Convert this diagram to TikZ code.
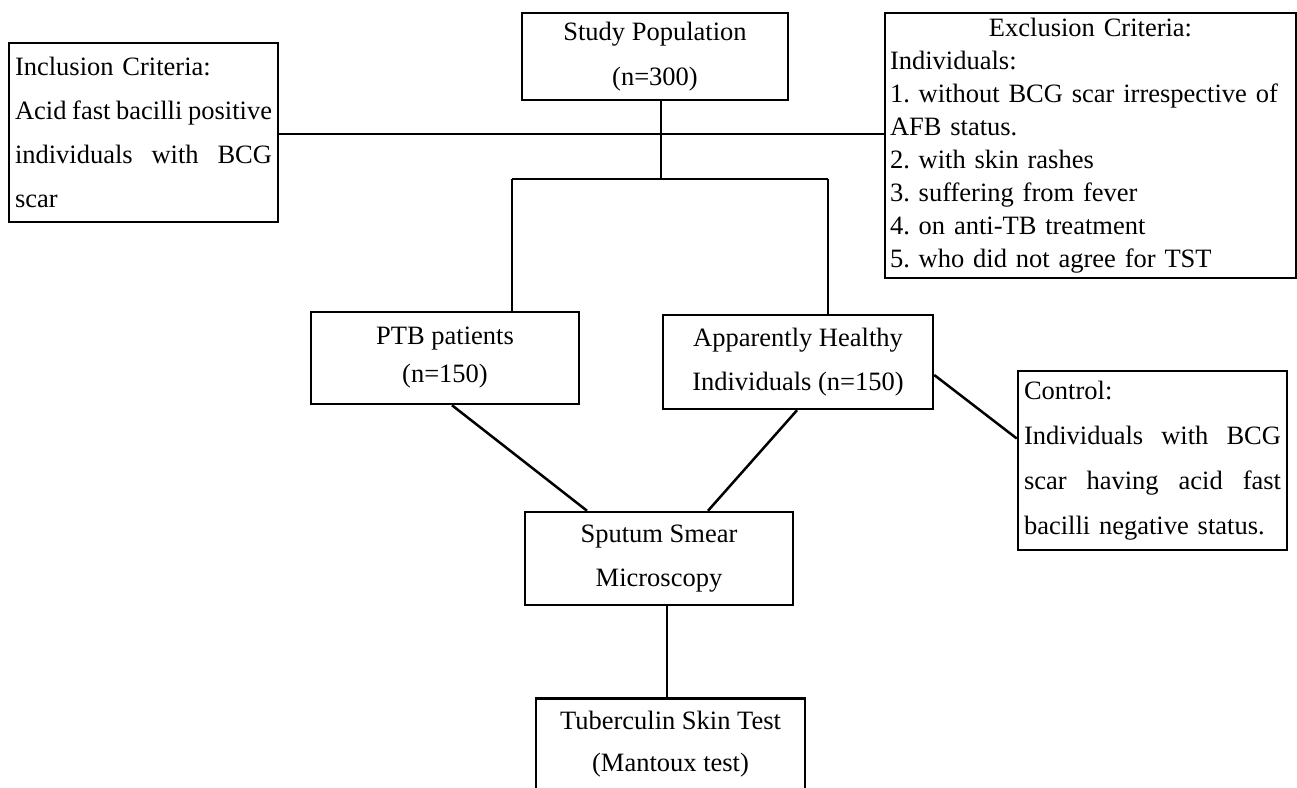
\documentclass[tikz,border=0pt]{standalone}
\usepackage{fontspec}
\setmainfont{Liberation Serif}
\frenchspacing
\newcommand{\spreadline}[1]{\makebox[257pt][s]{#1}}
\newcommand{\txt}[1]{\fontsize{26.5}{#1}\selectfont}

\begin{document}
\begin{tikzpicture}[x=1pt,y=-1pt,line width=2.5pt,
  box/.style={draw,rectangle,inner sep=0pt,align=center},
  listbox/.style={draw,rectangle,inner xsep=6pt,inner ysep=0pt,text width=257pt,align=left}]
\useasboundingbox (0,0) rectangle (1297,787);

% Study population and the two criteria boxes
\node[box,minimum width=266pt,minimum height=87pt,font=\txt{45}] (study) at (655,56.5) {Study Population\\(n=300)};
\node[listbox,minimum height=179pt,font=\txt{44}] (incl) at (143.5,132.5)
  {Inclusion Criteria:\\\spreadline{Acid\hfill fast\hfill bacilli\hfill positive}\\\spreadline{individuals\hfill with\hfill BCG}\\scar};
\node[listbox,inner xsep=5pt,text width=401pt,minimum height=265pt,font=\txt{33}] (excl) at (1090.5,145.5)
  {\makebox[401pt]{Exclusion Criteria:}\\Individuals:\\1. without BCG scar irrespective of\\AFB status.\\2. with skin rashes\\3. suffering from fever\\4. on anti-TB treatment\\5. who did not agree for TST};

% Two groups
\node[box,minimum width=268pt,minimum height=92pt,font=\txt{38}] (ptb) at (445,358) {PTB patients\\(n=150)};
\node[box,minimum width=270pt,minimum height=94pt,font=\txt{44}] (ah) at (798,362) {Apparently Healthy\\Individuals (n=150)};
\node[listbox,minimum height=179pt,font=\txt{45}] (ctrl) at (1152.5,460.5)
  {Control:\\\spreadline{Individuals\hfill with\hfill BCG}\\\spreadline{scar\hfill having\hfill acid\hfill fast}\\bacilli negative status.};

% Tests
\node[box,minimum width=268pt,minimum height=93pt,font=\txt{44}] (smear) at (659,558.5) {Sputum Smear\\Microscopy};
\node[box,anchor=north,minimum width=269pt,inner ysep=13pt,font=\txt{42}] (tst) at (670.5,697) {Tuberculin Skin Test\\(Mantoux test)};

% Connectors
\coordinate (cross) at (661,134);
\coordinate (split) at (661,179);
\coordinate (bl) at (512,179);
\coordinate (br) at (828,179);
\draw (incl.east |- cross) -- (excl.west |- cross);
\draw (study.south -| split) -- (split);
\draw (bl) -- (br);
\draw (bl) -- (bl |- ptb.north);
\draw (br) -- (br |- ah.north);
\draw ([xshift=7pt]ptb.south) -- ([xshift=-72pt]smear.north);
\draw ([xshift=-1pt]ah.south) -- ([xshift=49pt]smear.north);
\draw ([yshift=-13pt]ah.east) -- ([yshift=22pt]ctrl.west);
\draw ([xshift=8pt]smear.south) -- ([xshift=8pt]smear.south |- tst.north);

\end{tikzpicture}
\end{document}
